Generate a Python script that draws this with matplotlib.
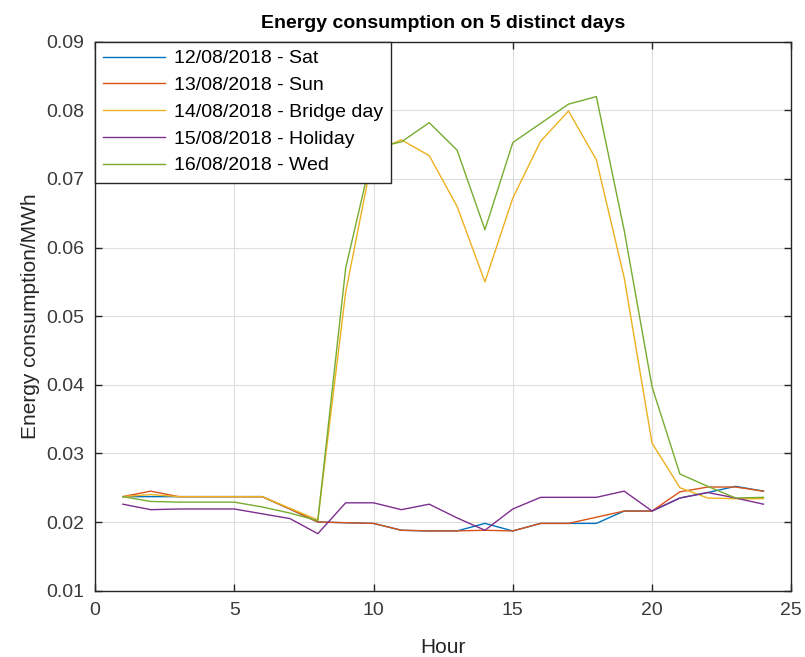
import matplotlib
matplotlib.use('Agg')
import matplotlib.pyplot as plt

hours = list(range(1, 25))

sat = [0.0237, 0.0237, 0.0237, 0.0237, 0.0237, 0.0237, 0.0219, 0.0200,
       0.0199, 0.0198, 0.0188, 0.0187, 0.0187, 0.0198, 0.0187, 0.0198,
       0.0198, 0.0198, 0.0216, 0.0216, 0.0235, 0.0243, 0.0252, 0.0245]
sun = [0.0237, 0.0245, 0.0237, 0.0237, 0.0237, 0.0237, 0.0219, 0.0200,
       0.0199, 0.0198, 0.0188, 0.0187, 0.0187, 0.0188, 0.0187, 0.0198,
       0.0198, 0.0207, 0.0216, 0.0216, 0.0244, 0.0251, 0.0251, 0.0245]
bridge = [0.0237, 0.0240, 0.0237, 0.0237, 0.0237, 0.0237, 0.0220, 0.0203,
          0.0535, 0.0740, 0.0757, 0.0734, 0.0660, 0.0550, 0.0672, 0.0755,
          0.0799, 0.0728, 0.0556, 0.0315, 0.0250, 0.0235, 0.0234, 0.0234]
holiday = [0.0226, 0.0218, 0.0219, 0.0219, 0.0219, 0.0212, 0.0205, 0.0183,
           0.0228, 0.0228, 0.0218, 0.0226, 0.0206, 0.0188, 0.0219, 0.0236,
           0.0236, 0.0236, 0.0245, 0.0216, 0.0235, 0.0243, 0.0235, 0.0226]
wed = [0.0237, 0.0230, 0.0229, 0.0229, 0.0229, 0.0222, 0.0213, 0.0202,
       0.0570, 0.0745, 0.0754, 0.0782, 0.0742, 0.0626, 0.0753, 0.0781,
       0.0809, 0.0820, 0.0625, 0.0397, 0.0270, 0.0252, 0.0235, 0.0236]

labels = ['12/08/2018 - Sat', '13/08/2018 - Sun', '14/08/2018 - Bridge day',
          '15/08/2018 - Holiday', '16/08/2018 - Wed']
# matlab default line colours
colors = ['#0072bd', '#d95319', '#edb120', '#7e2f8e', '#77ac30']

plt.rcParams['font.family'] = ['Liberation Sans', 'DejaVu Sans']

fig = plt.figure(figsize=(8.05, 6.57), dpi=100)
ax = fig.add_axes([0.118, 0.101, 0.865, 0.8355])

for series, lab, c in zip([sat, sun, bridge, holiday, wed], labels, colors):
    ax.plot(hours, series, color=c, lw=1.0, label=lab)

ax.set_xlim(0, 25)
ax.set_ylim(0.01, 0.09)
ax.set_xticks([0, 5, 10, 15, 20, 25])
ax.set_yticks([0.01, 0.02, 0.03, 0.04, 0.05, 0.06, 0.07, 0.08, 0.09])
ax.set_yticklabels(['0.01', '0.02', '0.03', '0.04', '0.05', '0.06', '0.07', '0.08', '0.09'])

ax.grid(True, color='#dedede', lw=0.8)
ax.set_axisbelow(True)
for s in ax.spines.values():
    s.set_color('#262626')
    s.set_linewidth(1.0)
ax.tick_params(direction='in', length=5, width=1.0, colors='#262626',
               labelsize=14, top=True, right=True, pad=8)
ax.tick_params(axis='both', labelcolor='#3a3a3a')

ax.set_xlabel('Hour', fontsize=15, color='#262626', labelpad=14)
ax.set_ylabel('Energy consumption/MWh', fontsize=15, color='#262626', labelpad=4)
ax.set_title('Energy consumption on 5 distinct days', fontsize=14,
             fontweight='bold', pad=10)

leg = ax.legend(loc='upper left', bbox_to_anchor=(0, 1), borderaxespad=0,
                fontsize=14, fancybox=False, framealpha=1, edgecolor='#262626',
                handlelength=3.2, handletextpad=0.45, labelspacing=0.47,
                borderpad=0.42)
leg.get_frame().set_linewidth(1.0)

plt.savefig('out.png', dpi=100)
